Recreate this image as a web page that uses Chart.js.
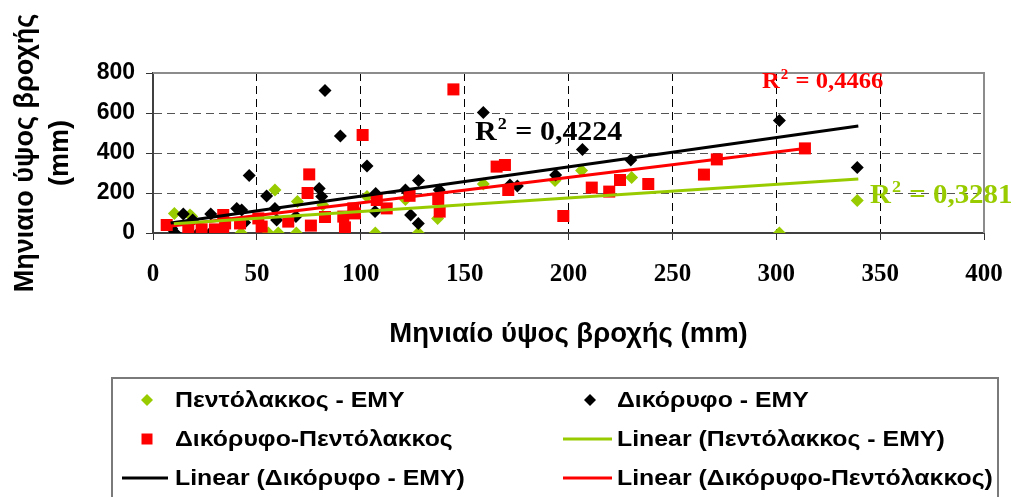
<!DOCTYPE html>
<html>
<head>
<meta charset="utf-8">
<script src="https://cdn.jsdelivr.net/npm/chart.js@4/dist/chart.umd.min.js"></script>
<style>
html,body{margin:0;padding:0;background:#fff;overflow:hidden;}
#c{display:block;}
</style>
</head>
<body>
<canvas id="c" width="1016" height="497"></canvas>
<script>
// ---- Data ----
const pentoX = [10.3, 17.8, 18.6, 22.6, 28, 33, 42.4, 55.5, 58.7, 60.3, 69, 69.5, 81.7, 103, 107, 121.5, 127.7, 137, 159, 193.5, 206.3, 230.4, 301.5, 339];
const pentoY = [98, 90, 82, 0, 0, 0, 0, 0, 215, 0, 0, 158, 140, 182, 0, 168, 0, 73, 245, 262, 312, 277, 0, 162];

const dikX = [9, 10.6, 14.6, 19.1, 21.8, 27.8, 28.3, 40.3, 42.7, 44.1, 46.3, 54.7, 58.7, 59.5, 68.8, 80, 81.2, 82.8, 90.2, 103, 106.9, 107.2, 121.5, 124, 127.7, 127.8, 137.8, 159, 171.8, 175.4, 193.8, 206.7, 230, 301.5, 339];
const dikY = [23, 0, 95, 65, 0, 95, 7, 123, 115, 53, 288, 185, 123, 65, 82, 223, 182, 712, 485, 335, 107, 198, 215, 90, 48, 262, 215, 602, 240, 235, 290, 418, 365, 562, 327];

const dikPentoX = [6.6, 17, 23.4, 29.8, 33.8, 33.8, 34.7, 41.9, 50.7, 52.3, 65.1, 74.4, 75.2, 76, 82.8, 91.6, 92.4, 96.4, 97.2, 100.9, 107.7, 112.5, 123.5, 137.3, 138, 144.6, 165.4, 169.4, 171, 197.5, 211.2, 219.6, 224.8, 238.4, 265.2, 271.4, 313.8];
const dikPentoY = [40, 23, 18, 18, 7, 90, 48, 48, 73, 32, 57, 200, 293, 37, 80, 82, 28, 123, 98, 490, 165, 123, 186, 170, 107, 718, 332, 340, 215, 85, 227, 207, 265, 245, 292, 368, 423];

// Trend line end points
const trendPentoX = [10, 339.5];
const trendPentoY = [46, 270];
const trendDikX = [8.5, 339.5];
const trendDikY = [50, 535];
const trendDikPentoX = [5, 313.8];
const trendDikPentoY = [30, 423];

const seriesNames = ['Πεντόλακκος - ΕΜΥ', 'Δικόρυφο - ΕΜΥ', 'Δικόρυφο-Πεντόλακκος',
  'Linear (Πεντόλακκος - ΕΜΥ)', 'Linear (Δικόρυφο - ΕΜΥ)', 'Linear (Δικόρυφο-Πεντόλακκος)'];
const r2Labels = ['0,3281', '0,4224', '0,4466'];
const xTicks = [0, 50, 100, 150, 200, 250, 300, 350, 400];
const yTicks = [0, 200, 400, 600, 800];
const xTitle = 'Μηνιαίο ύψος βροχής (mm)';
const yTitle = ['Μηνιαιο ύψος βροχής', '(mm)'];

const GREEN = '#99CC00', RED = '#FF0000', BLACK = '#000000';

function pts(xs, ys) { return xs.map((x, i) => ({x: x, y: ys[i]})); }

const borderPlugin = {
  id: 'plotBorder',
  beforeDatasetsDraw(chart) {
    const {ctx, chartArea: a} = chart;
    ctx.save();
    ctx.strokeStyle = '#8c8c8c';
    ctx.lineWidth = 2;
    ctx.beginPath();
    ctx.moveTo(a.left, a.top); ctx.lineTo(a.right, a.top); ctx.lineTo(a.right, a.bottom);
    ctx.stroke();
    ctx.restore();
  }
};

function drawR2(ctx, x, y, size, color, val) {
  ctx.save();
  ctx.translate(x, y);
  ctx.scale(1.07, 1);
  ctx.fillStyle = color;
  ctx.textBaseline = 'alphabetic';
  ctx.textAlign = 'left';
  ctx.font = 'bold ' + size + 'px "Liberation Serif"';
  ctx.fillText('R', 0, 0);
  const w = ctx.measureText('R').width;
  ctx.font = 'bold ' + Math.round(size * 0.62) + 'px "Liberation Serif"';
  ctx.fillText('2', w + 1, -size * 0.4);
  const w2 = ctx.measureText('2').width;
  ctx.font = 'bold ' + size + 'px "Liberation Serif"';
  ctx.fillText(' = ' + val, w + w2 + 2, 0);
  ctx.restore();
}

const annoPlugin = {
  id: 'annos',
  afterDraw(chart) {
    const ctx = chart.ctx;
    drawR2(ctx, 870, 203, 27, GREEN, r2Labels[0]);
    drawR2(ctx, 475, 140, 28, BLACK, r2Labels[1]);
    drawR2(ctx, 762, 88, 23, RED, r2Labels[2]);

    // Legend box
    ctx.save();
    ctx.strokeStyle = '#7a7a7a';
    ctx.lineWidth = 2;
    ctx.strokeRect(112, 378, 886, 140);
    const ds = chart.data.datasets;
    const cols = [{mx: 147, lx1: 122, lx2: 168, tx: 175}, {mx: 590, lx1: 563, lx2: 612, tx: 617}];
    const rows = [400, 439, 478];
    ds.forEach((d, i) => {
      const c = cols[i % 2], yy = rows[Math.floor(i / 2)];
      if (d.showLine) {
        ctx.strokeStyle = d.borderColor; ctx.lineWidth = 3;
        ctx.beginPath(); ctx.moveTo(c.lx1, yy); ctx.lineTo(c.lx2, yy); ctx.stroke();
      } else {
        ctx.fillStyle = d.backgroundColor;
        ctx.beginPath();
        if (d.pointStyle === 'rectRot') {
          const r = 6;
          ctx.moveTo(c.mx, yy - r); ctx.lineTo(c.mx + r, yy); ctx.lineTo(c.mx, yy + r); ctx.lineTo(c.mx - r, yy);
          ctx.closePath();
        } else {
          ctx.rect(c.mx - 5.5, yy - 5.5, 11, 11);
        }
        ctx.fill();
      }
      ctx.save();
      ctx.translate(c.tx, yy + 1);
      ctx.scale(1.13, 1);
      ctx.font = 'bold 22px "Liberation Sans"';
      ctx.textBaseline = 'middle';
      ctx.fillStyle = '#000';
      ctx.fillText(d.label, 0, 0);
      ctx.restore();
    });
    ctx.restore();
  }
};

new Chart(document.getElementById('c'), {
  type: 'scatter',
  data: {
    datasets: [
      {label: seriesNames[0], data: pts(pentoX, pentoY), pointStyle: 'rectRot', pointRadius: 6.5, pointHoverRadius: 6.5,
        backgroundColor: GREEN, borderColor: GREEN, borderWidth: 0, order: 6},
      {label: seriesNames[1], data: pts(dikX, dikY), pointStyle: 'rectRot', pointRadius: 6.5, pointHoverRadius: 6.5,
        backgroundColor: BLACK, borderColor: BLACK, borderWidth: 0, order: 5},
      {label: seriesNames[2], data: pts(dikPentoX, dikPentoY), pointStyle: 'rect', pointRadius: 8.5, pointHoverRadius: 8.5,
        backgroundColor: RED, borderColor: RED, borderWidth: 0, order: 4},
      {label: seriesNames[3], data: pts(trendPentoX, trendPentoY), showLine: true, pointRadius: 0,
        borderColor: GREEN, backgroundColor: GREEN, borderWidth: 3, order: 1},
      {label: seriesNames[4], data: pts(trendDikX, trendDikY), showLine: true, pointRadius: 0,
        borderColor: BLACK, backgroundColor: BLACK, borderWidth: 3, order: 2},
      {label: seriesNames[5], data: pts(trendDikPentoX, trendDikPentoY), showLine: true, pointRadius: 0,
        borderColor: RED, backgroundColor: RED, borderWidth: 3, order: 3}
    ]
  },
  options: {
    responsive: false,
    animation: false,
    devicePixelRatio: 1,
    layout: {padding: {left: 0, right: 32, top: 73, bottom: 134}},
    plugins: {legend: {display: false}, tooltip: {enabled: false}},
    scales: {
      x: {
        type: 'linear', min: 0, max: 400,
        afterBuildTicks: s => { s.ticks = xTicks.map(v => ({value: v})); },
        afterFit: s => { s.height = 130; s.paddingRight = 0; s.paddingLeft = 0; },
        ticks: {font: {family: 'Liberation Serif', weight: 'bold', size: 25}, color: '#000', padding: 20, maxRotation: 0},
        grid: {
          color: c => (c.tick && (c.tick.value === 0 || c.tick.value === 400)) ? 'rgba(0,0,0,0)' : '#000',
          lineWidth: 1, tickLength: 7, tickColor: '#333', tickWidth: 1
        },
        border: {display: true, color: '#404040', width: 2, dash: [8, 5]},
        title: {display: true, text: xTitle, color: '#000', font: {family: 'Liberation Sans', weight: 'bold', size: 27.5}, padding: {top: 0, bottom: 12}}
      },
      y: {
        type: 'linear', min: 0, max: 800,
        afterBuildTicks: s => { s.ticks = yTicks.map(v => ({value: v})); },
        afterFit: s => { s.width = 153; },
        ticks: {font: {family: 'Liberation Sans', weight: 'bold', size: 23}, color: '#000', padding: 11},
        grid: {
          color: c => (c.tick && (c.tick.value === 0 || c.tick.value === 800)) ? 'rgba(0,0,0,0)' : '#555',
          lineWidth: 1, tickLength: 7, tickColor: '#333', tickWidth: 1
        },
        border: {display: true, color: '#404040', width: 2, dash: [8, 5]},
        title: {display: true, text: yTitle, color: '#000', font: {family: 'Liberation Sans', weight: 'bold', size: 27, lineHeight: 1.3}, padding: {top: 8, bottom: 0}}
      }
    }
  },
  plugins: [borderPlugin, annoPlugin]
});
</script>
</body>
</html>
